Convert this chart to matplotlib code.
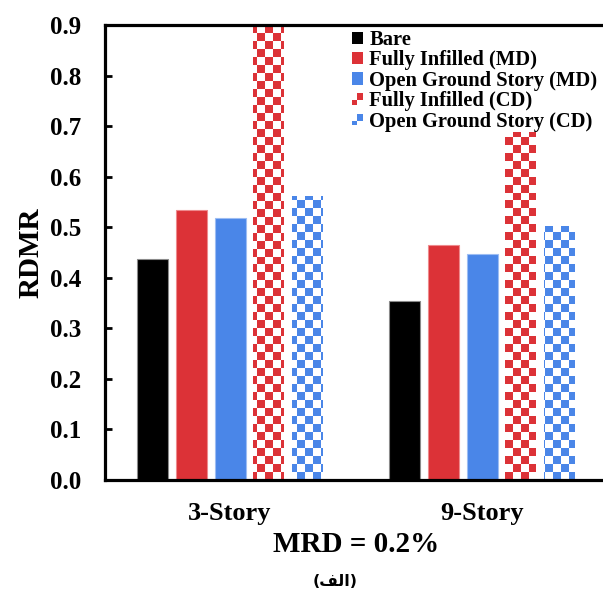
import numpy as np
import matplotlib
matplotlib.use('Agg')
import matplotlib.pyplot as plt
from matplotlib.patches import Rectangle, Patch
from matplotlib.legend_handler import HandlerBase

# ---------------- data ----------------
categories = ['3-Story', '9-Story']
series_names = ['Bare', 'Fully Infilled (MD)', 'Open Ground Story (MD)',
                'Fully Infilled (CD)', 'Open Ground Story (CD)']
bare = [0.437, 0.354]
fully_md = [0.535, 0.465]
ogs_md = [0.518, 0.447]
fully_cd = [0.93, 0.688]
ogs_cd = [0.562, 0.502]
yticks = [0.0, 0.1, 0.2, 0.3, 0.4, 0.5, 0.6, 0.7, 0.8, 0.9]
xlabel = 'MRD = 0.2%'
ylabel = 'RDMR'
caption = '(\ufed2\ufedf\ufe8d)'   # "(الف)" in visual (shaped) order

# ---------------- style ----------------
RED = '#DC3237'
BLUE = '#4A86E8'
colors = ['#000000', RED, BLUE, RED, BLUE]
edgecols = ['#8a8a8a', '#EE8A8D', '#9DBDF3', None, None]
checker = [False, False, False, True, True]
values = [bare, fully_md, ogs_md, fully_cd, ogs_cd]

plt.rcParams['font.family'] = ['Liberation Serif', 'DejaVu Serif']
plt.rcParams['font.weight'] = 'bold'

fig = plt.figure(figsize=(6.03, 5.94), dpi=100)
ax = fig.add_axes([105 / 603, 114 / 594, 498 / 603, 455 / 594])

XLIM = (-0.496, 1.480)
YLIM = (0.0, 0.9)
ax.set_xlim(*XLIM)
ax.set_ylim(*YLIM)

x = np.arange(len(categories))
width = 0.123
step = 0.154

# checker cell size (~8 px)
cx = 8 / 252.0
NY = 57


def checker_image(color):
    nx = int(np.ceil((XLIM[1] - XLIM[0]) / cx)) + 1
    ny = NY
    cy = (YLIM[1] - YLIM[0]) / ny
    rgba = np.ones((ny, nx, 4))
    c = matplotlib.colors.to_rgba(color)
    ii, jj = np.meshgrid(np.arange(ny), np.arange(nx), indexing='ij')
    mask = (ii + jj) % 2 == 0
    rgba[mask] = c
    return rgba, (XLIM[0], XLIM[0] + nx * cx, YLIM[0], YLIM[0] + ny * cy)


for k, (vals, col) in enumerate(zip(values, colors)):
    pos = x + (k - 2) * step
    if not checker[k]:
        ax.bar(pos, vals, width, color=col, edgecolor=edgecols[k],
               linewidth=0.8, zorder=2)
    else:
        bars = ax.bar(pos, vals, width, facecolor='white', edgecolor='none',
                      zorder=2)
        img, ext = checker_image(col)
        for b in bars:
            im = ax.imshow(img, extent=ext, origin='lower', aspect='auto',
                           interpolation='nearest', zorder=3)
            im.set_clip_path(b)

ax.set_xlim(*XLIM)
ax.set_ylim(*YLIM)

# axes styling
for s in ['left', 'top', 'bottom']:
    ax.spines[s].set_linewidth(2.3)
    ax.spines[s].set_color('black')
    ax.spines[s].set_zorder(5)
ax.spines['right'].set_visible(False)

ax.set_yticks(yticks)
ax.set_yticklabels([f'{t:.1f}' for t in yticks])
ax.tick_params(axis='y', direction='in', length=5, width=2, pad=17,
               labelsize=18)
ax.set_xticks(x)
ax.set_xticklabels(categories)
ax.tick_params(axis='x', length=0, pad=16, labelsize=19)
for lab in ax.get_xticklabels() + ax.get_yticklabels():
    lab.set_fontweight('bold')

ax.set_ylabel(ylabel, fontsize=21, fontweight='bold', labelpad=4)

fig.text(356 / 603, 1 - 545 / 594, xlabel, fontsize=21, fontweight='bold',
         ha='center', va='center')
fig.text(335 / 603, 1 - 582 / 594, caption, fontsize=11.5, fontweight='bold',
         ha='center', va='center', family=['DejaVu Sans'])


# legend
class CheckerHandler(HandlerBase):
    def __init__(self, color):
        super().__init__()
        self.color = color

    def create_artists(self, legend, orig_handle, xdescent, ydescent,
                       width, height, fontsize, trans):
        s = min(width, height)
        x0 = -xdescent + (width - s) / 2
        y0 = -ydescent + (height - s) / 2
        h = s * 0.6
        a1 = Rectangle((x0 + s - h, y0 + s - h), h, h, facecolor=self.color,
                       edgecolor='none', transform=trans)
        a2 = Rectangle((x0, y0), s - h, s - h, facecolor=self.color,
                       edgecolor='none', transform=trans)
        return [a1, a2]


handles = []
hmap = {}
for k, name in enumerate(series_names):
    p = Patch(facecolor=colors[k], edgecolor='none', label=name)
    handles.append(p)
    if checker[k]:
        hmap[p] = CheckerHandler(colors[k])

leg = fig.legend(handles=handles, handler_map=hmap, loc='upper left',
                 bbox_to_anchor=(352 / 603, 1 - 30 / 594), frameon=False,
                 prop={'family': 'Liberation Serif', 'weight': 'bold',
                       'size': 14.8},
                 handlelength=0.55, handleheight=0.55, handletextpad=0.3,
                 labelspacing=0.02, borderpad=0, borderaxespad=0)

fig.savefig('out.png', dpi=100)
